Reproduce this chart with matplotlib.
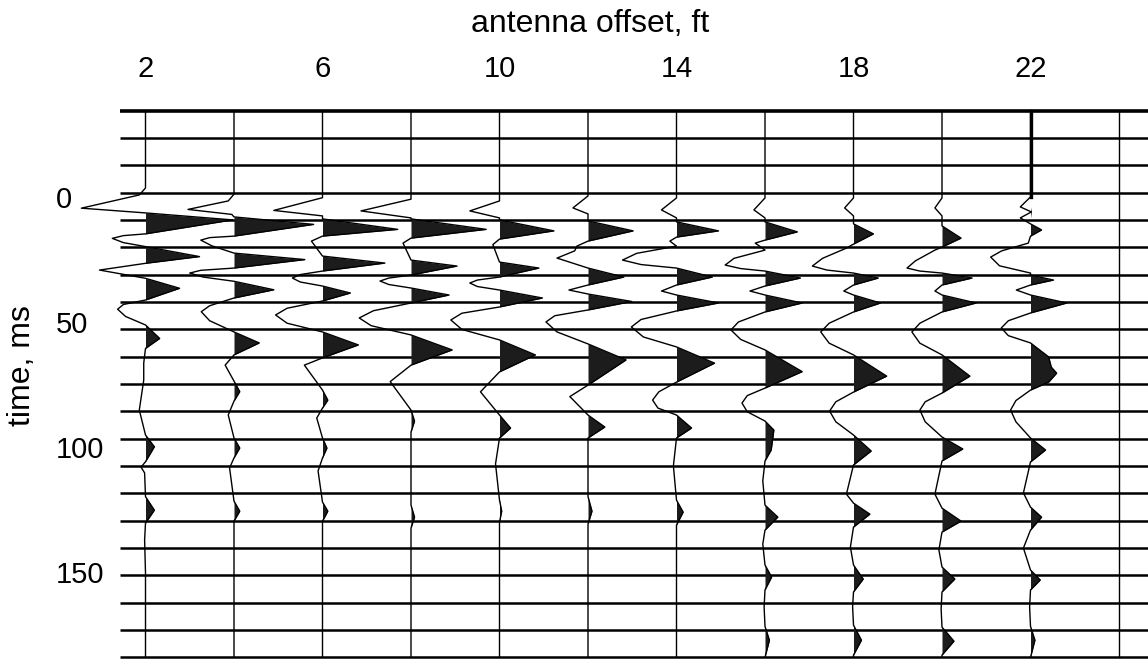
import numpy as np
import matplotlib
matplotlib.use("Agg")
import matplotlib.pyplot as plt

plt.rcParams['font.family'] = ['Liberation Sans', 'DejaVu Sans']

# ---------------- data ----------------
offsets = [2, 4, 6, 8, 10, 12, 14, 16, 18, 20, 22, 24]          # antenna offset, ft
x_tick_values = [2, 6, 10, 14, 18, 22]
y_tick_values = [0, 50, 100, 150]
timing_first_ms = -34.66    # first timing line
timing_step_ms = 10.952     # spacing of the timing lines on the record
timing_count = 21

# wiggle traces: key points (time in ms, deflection in ft, + = right/filled)
t_2 = [-34.7, -3.7, -0.9, 4.4, 6.3, 9.1, 14.7, 15.4, 16.5, 18.2, 19.8, 23.8, 26.5, 29.2, 32.5, 36.5, 41.2, 43.0,
       44.9, 47.8, 51.2, 56.6, 60.6, 66.5, 73.3, 85.3, 95.3, 100.0, 106.0, 108.2, 110.5, 120.0, 125.4, 130.6,
       137.4, 150.6, 184.4]
a_2 = [0, 0, -0.14, -1.45, 0, 1.97, 0, -0.5, -0.75, -0.5, 0, 1.22, 0, -1.04, 0, 0.77, 0, -0.5,
       -0.63, -0.45, 0, 0.32, 0, -0.04, -0.04, -0.14, 0, 0.2, 0, -0.1, -0.02, 0, 0.2, 0,
       -0.02, 0, 0]

t_4 = [-34.7, -1.2, 1.5, 4.9, 6.9, 7.9, 10.9, 15.6, 16.2, 17.2, 19.5, 22.4, 25.0, 28.4, 29.3, 30.4, 32.0, 33.7,
       37.1, 40.4, 43.5, 45.9, 49.5, 54.0, 58.4, 63.2, 67.3, 73.7, 77.9, 81.7, 87.3, 96.5, 100.5, 104.5, 108.5,
       121.8, 125.8, 129.8, 139.0, 184.4]
a_4 = [0, 0, -0.13, -1.04, -0.05, 0, 1.8, 0, -0.55, -0.75, -0.5, 0, 1.6, 0, -0.75, -1.0, -0.7, 0,
       0.9, 0, -0.55, -0.74, -0.55, 0, 0.57, 0, -0.2, 0, 0.13, 0, -0.13, 0, 0.13, 0, -0.1,
       0, 0.13, 0, 0.0, 0.0]

t_6 = [-34.7, 0.2, 5.3, 7.5, 8.7, 12.9, 15.6, 17.6, 23.6, 26.4, 29.6, 31.0, 32.4, 34.0, 35.6, 38.4, 41.6, 44.5,
       47.2, 50.5, 54.0, 59.2, 64.4, 67.3, 77.3, 81.3, 84.5, 88.5, 96.5, 100.5, 104.5, 109.7, 122.2, 125.8,
       129.8, 139.0, 184.4]
a_6 = [0, 0, -1.1, 0, 0, 1.7, 0, -0.25, 0, 1.41, 0, -0.5, -0.68, -0.5, 0, 0.63, 0, -0.8,
       -1.06, -0.8, 0, 0.81, 0, -0.41, 0, 0.12, 0, -0.13, 0, 0.1, 0, -0.1, 0, 0.12,
       0, 0.0, 0.0]

t_8 = [-34.7, 0.8, 5.5, 8.3, 8.7, 12.9, 16.4, 18.4, 25.2, 27.6, 31.2, 32.4, 33.6, 35.0, 36.4, 39.2, 42.4, 45.5,
       48.4, 51.5, 55.2, 61.2, 67.3, 73.9, 85.3, 89.7, 94.1, 123.4, 128.2, 132.6, 184.4]
a_8 = [0, 0, -1.13, 0, 0, 1.7, 0, -0.18, 0, 1.04, 0, -0.5, -0.7, -0.5, 0, 0.86, 0, -0.85,
       -1.17, -0.9, 0, 0.93, 0, -0.47, 0, 0.08, 0, 0, 0.08, 0, 0.0]

t_10 = [-34.7, 1.5, 5.5, 8.3, 9.1, 13.5, 16.8, 19.0, 26.0, 28.4, 32.0, 33.2, 34.4, 35.8, 37.2, 40.4, 44.0, 46.5,
        49.2, 53.0, 57.2, 63.2, 70.0, 78.0, 87.3, 92.5, 96.5, 106.9, 121.4, 125.8, 130.2, 184.4]
a_10 = [0, 0, -0.67, 0, 0, 1.23, 0, -0.15, 0, 0.89, 0, -0.5, -0.67, -0.5, 0, 0.97, 0, -0.85,
        -1.1, -0.85, 0, 0.81, 0, -0.43, 0, 0.25, 0, -0.09, 0, 0.05, 0, 0.0]

t_12 = [-34.7, -0.5, 4.3, 6.7, 9.5, 13.5, 17.6, 19.6, 21.5, 24.4, 28.4, 32.0, 35.2, 37.2, 38.8, 41.8, 45.2, 47.5,
        50.0, 54.0, 58.8, 65.2, 75.3, 79.9, 87.3, 92.1, 96.5, 106.9, 120.0, 125.8, 131.0, 184.4]
a_12 = [0, 0, -0.34, 0, 0, 1.02, 0, -0.25, -0.3, -0.7, 0, 0.81, 0, -0.43, 0, 0.99, 0, -0.75,
        -0.95, -0.7, 0, 0.86, 0, -0.41, 0, 0.38, 0, 0, 0.0, 0.09, 0.0, 0.0]

t_14 = [-34.7, 0.3, 5.1, 8.3, 9.9, 13.5, 16.0, 17.6, 19.6, 22.5, 25.2, 27.0, 28.4, 32.0, 35.2, 37.6, 39.2, 42.4,
        45.6, 49.0, 52.0, 56.0, 60.0, 66.5, 74.1, 78.0, 81.3, 84.5, 87.3, 92.5, 96.5, 107.7, 121.4, 126.2, 131.4,
        184.4]
a_14 = [0, 0, -0.34, 0, 0, 0.95, 0, -0.15, 0, -0.9, -1.22, -0.8, 0, 0.81, 0, -0.34, 0, 0.95,
        0, -0.8, -1.02, -0.75, 0, 0.86, 0, -0.4, -0.54, -0.42, 0, 0.34, 0, -0.07, 0, 0.15, 0.0,
        0.0]

t_16 = [-34.7, 0.3, 5.1, 8.3, 9.9, 13.9, 17.2, 18.4, 21.2, 24.5, 27.2, 28.6, 29.6, 32.4, 35.6, 37.6, 39.2, 42.4,
        46.0, 50.0, 53.2, 57.0, 61.2, 69.9, 76.5, 79.5, 82.5, 86.0, 89.7, 93.3, 101.3, 105.7, 113.7, 123.4,
        128.2, 133.4, 139.0, 147.4, 152.2, 157.4, 164.2, 172.0, 177.5, 184.4]
a_16 = [0, 0, -0.25, 0, 0, 0.73, 0, -0.22, 0, -0.7, -0.9, -0.55, 0, 0.8, 0, -0.34, 0, 0.84,
        0, -0.6, -0.77, -0.55, 0, 0.84, 0, -0.4, -0.52, -0.4, 0, 0.2, 0.14, 0, -0.05, 0,
        0.29, 0, -0.05, 0, 0.15, 0, -0.02, 0.0, 0.1, 0.0]

t_18 = [-34.7, 0.3, 4.3, 7.5, 10.7, 14.7, 18.8, 20.4, 24.5, 27.6, 29.2, 30.4, 32.4, 35.2, 37.6, 39.2, 42.4, 46.0,
        50.5, 54.0, 58.5, 63.2, 71.7, 78.1, 82.0, 85.7, 90.0, 95.3, 101.7, 107.3, 119.0, 122.6, 127.0, 132.2,
        140.2, 147.4, 153.0, 158.2, 164.2, 171.5, 177.5, 183.5, 184.4]
a_18 = [0, 0, -0.2, 0, 0, 0.45, 0, -0.16, -0.7, -0.93, -0.6, 0, 0.56, 0, -0.22, 0, 0.61, 0,
        -0.55, -0.74, -0.55, 0, 0.75, 0, -0.4, -0.54, -0.4, 0, 0.4, 0, -0.16, 0, 0.37, 0,
        -0.07, 0, 0.22, 0, -0.02, 0, 0.18, 0.0, 0.0]

t_20 = [-34.7, 0.3, 4.3, 7.5, 11.5, 16.4, 20.0, 21.2, 25.5, 28.4, 29.6, 30.4, 32.4, 35.2, 37.6, 39.2, 42.4, 46.0,
        50.5, 54.0, 58.5, 63.2, 71.7, 78.5, 82.0, 85.3, 90.0, 96.1, 100.9, 105.7, 119.0, 124.6, 129.8, 134.2,
        141.4, 148.2, 153.0, 158.2, 165.0, 172.3, 177.9, 183.5, 184.4]
a_20 = [0, 0, -0.16, 0, 0, 0.43, 0, -0.16, -0.6, -0.79, -0.5, 0, 0.68, 0, -0.16, 0, 0.77, 0,
        -0.5, -0.68, -0.5, 0, 0.63, 0, -0.38, -0.5, -0.38, 0, 0.47, 0, -0.16, 0, 0.43, 0,
        -0.07, 0, 0.29, 0, -0.02, 0, 0.27, 0.0, 0.0]

t_22 = [-34.7, -0.1, 3.9, 5.9, 8.3, 10.7, 13.1, 15.6, 18.4, 21.5, 24.0, 27.5, 30.4, 31.2, 33.2, 35.2, 37.2, 39.2,
        42.4, 46.4, 49.5, 52.4, 55.5, 58.4, 64.0, 68.1, 70.5, 74.1, 77.3, 81.5, 85.3, 90.0, 96.5, 101.3, 106.1,
        118.5, 124.2, 128.2, 133.4, 140.6, 149.4, 153.4, 157.4, 164.2, 172.0, 177.5, 184.4]
a_22 = [0, 0, -0.23, 0.02, -0.23, 0, 0.25, 0, -0.05, -0.65, -0.9, -0.7, 0, 0, 0.52, 0, -0.32, 0,
        0.82, 0, -0.5, -0.66, -0.5, 0, 0.41, 0.47, 0.59, 0.41, 0, -0.33, -0.45, -0.33, 0, 0.34, 0,
        -0.16, 0, 0.25, 0, -0.16, 0, 0.22, 0, -0.02, 0.0, 0.1, 0.0]

t_24 = [-34.7, 184.4]
a_24 = [0, 0]

trace_times = [t_2, t_4, t_6, t_8, t_10, t_12, t_14, t_16, t_18, t_20, t_22, t_24]
trace_amps = [a_2, a_4, a_6, a_8, a_10, a_12, a_14, a_16, a_18, a_20, a_22, a_24]

# ---------------- figure ----------------
W, H = 1148, 659
fig = plt.figure(figsize=(W / 100, H / 100), dpi=100)
ax_left, ax_right, ax_top, ax_bottom = 118, 1148, 110.7, 657.3
ax = fig.add_axes([ax_left / W, 1 - ax_bottom / H, (ax_right - ax_left) / W, (ax_bottom - ax_top) / H])

px_per_ft = 44.25
x0_px = 57.0
ax.set_xlim((ax_left - x0_px) / px_per_ft, (ax_right - x0_px) / px_per_ft)
t_top = timing_first_ms
t_bot = timing_first_ms + timing_step_ms * (timing_count - 1)
ax.set_ylim(t_bot, t_top)

# timing lines
timing = timing_first_ms + timing_step_ms * np.arange(timing_count)
lws = [2.6] + [1.8] * (timing_count - 1)
ax.hlines(timing, (120 - x0_px) / px_per_ft, ax.get_xlim()[1], colors='black', linewidths=lws,
          clip_on=False, zorder=1)

# traces
for off, tt, aa in zip(offsets, trace_times, trace_amps):
    tt = np.asarray(tt, float)
    aa = np.asarray(aa, float)
    ax.fill_betweenx(tt, off, off + np.maximum(aa, 0), color='#1c1c1c', linewidth=0, zorder=2,
                     clip_on=False)
    ax.plot(off + aa, tt, color='black', linewidth=1.0, zorder=3, clip_on=False)
    if off == 22:
        pre = tt <= 0
        ax.plot(off + aa[pre], tt[pre], color='black', linewidth=2.4, zorder=3, clip_on=False)

ax.set_frame_on(False)
ax.xaxis.tick_top()
ax.set_xticks(x_tick_values)
ax.set_xticklabels([str(v) for v in x_tick_values], fontsize=21)
ax.set_yticks(y_tick_values)
ax.set_yticklabels([str(v) for v in y_tick_values], fontsize=21)
ax.tick_params(axis='x', length=0, pad=20.2)
ax.tick_params(axis='y', length=0, pad=(ax_left - 56) * 0.72)
for lab in ax.get_yticklabels():
    lab.set_horizontalalignment('left')

fig.text(590 / W, 1 - 24 / H, 'antenna offset, ft', ha='center', va='center', fontsize=23)
fig.text(22 / W, 1 - 366 / H, 'time, ms', ha='center', va='center', rotation=90, fontsize=23)

fig.savefig('out.png', dpi=100)
